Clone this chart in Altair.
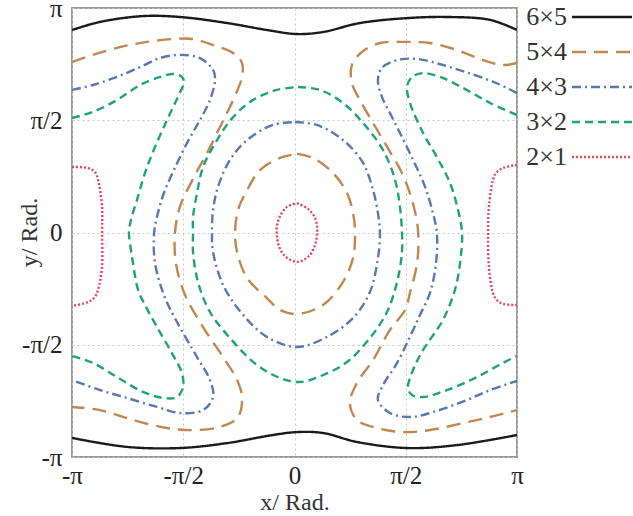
import altair as alt
import pandas as pd

# Series (legend order), colours and dash patterns
SERIES = ["6×5", "5×4", "4×3", "3×2", "2×1"]
COLORS = ["#1a1a1a", "#c0874f", "#5a78b0", "#1fa27a", "#e2475a"]
DASHES = [[1, 0], [14, 8], [9, 4, 2, 4], [8, 5], [2, 2]]

# Tick values (in units of pi) and their labels
TICKS = [-1, -0.5, 0, 0.5, 1]
TICK_LABELS = ["-π", "-π/2", "0", "π/2", "π"]

# Contour traces, (x, y) in units of pi
BLACK_TOP = [(-1.0, 0.902), (-0.874, 0.938), (-0.681, 0.964), (-0.515, 0.960), (-0.303, 0.933),
             (-0.124, 0.902), (0.011, 0.884), (0.128, 0.893), (0.294, 0.933), (0.506, 0.955),
             (0.685, 0.960), (0.879, 0.947), (1.0, 0.902)]
BLACK_BOT = [(-1.0, -0.915), (-0.753, -0.955), (-0.515, -0.960), (-0.303, -0.938), (-0.097, -0.902),
             (0.011, -0.889), (0.128, -0.893), (0.281, -0.933), (0.506, -0.960), (0.730, -0.947),
             (1.0, -0.902)]

BROWN_LEFT = [(-1.0, 0.759), (-0.906, 0.791), (-0.784, 0.826), (-0.663, 0.849), (-0.546, 0.862),
              (-0.456, 0.862), (-0.366, 0.835), (-0.276, 0.800), (-0.236, 0.755), (-0.236, 0.693),
              (-0.276, 0.590), (-0.335, 0.470), (-0.393, 0.354), (-0.447, 0.256), (-0.515, 0.114),
              (-0.537, -0.002), (-0.533, -0.136), (-0.492, -0.278), (-0.411, -0.421), (-0.321, -0.555),
              (-0.258, -0.657), (-0.236, -0.733), (-0.254, -0.822), (-0.335, -0.866), (-0.456, -0.880),
              (-0.573, -0.871), (-0.726, -0.835), (-0.874, -0.791), (-1.0, -0.777)]
BROWN_RIGHT = [(1.0, 0.755), (0.937, 0.746), (0.847, 0.768), (0.730, 0.813), (0.609, 0.844),
               (0.488, 0.849), (0.384, 0.844), (0.303, 0.804), (0.258, 0.746), (0.258, 0.666),
               (0.294, 0.590), (0.353, 0.488), (0.416, 0.381), (0.483, 0.265), (0.528, 0.145),
               (0.555, 0.011), (0.551, -0.136), (0.519, -0.269), (0.497, -0.345), (0.429, -0.434),
               (0.353, -0.568), (0.281, -0.670), (0.249, -0.760), (0.281, -0.835), (0.371, -0.871),
               (0.488, -0.889), (0.609, -0.880), (0.757, -0.849), (0.879, -0.822), (1.0, -0.791)]
BROWN_CENTER = [(0.011, 0.350), (0.083, 0.332), (0.173, 0.265), (0.236, 0.176), (0.263, 0.087),
                (0.272, -0.002), (0.263, -0.114), (0.218, -0.220), (0.128, -0.323), (0.011, -0.363),
                (-0.065, -0.345), (-0.124, -0.292), (-0.213, -0.203), (-0.258, -0.087), (-0.267, -0.002),
                (-0.254, 0.100), (-0.213, 0.189), (-0.155, 0.278), (-0.065, 0.332), (0.011, 0.350)]

BLUE_LEFT = [(-1.0, 0.635), (-0.906, 0.657), (-0.798, 0.693), (-0.694, 0.737), (-0.604, 0.777),
             (-0.515, 0.791), (-0.425, 0.777), (-0.366, 0.724), (-0.357, 0.679), (-0.380, 0.590),
             (-0.425, 0.501), (-0.483, 0.399), (-0.542, 0.278), (-0.587, 0.176), (-0.618, 0.069),
             (-0.631, -0.002), (-0.627, -0.136), (-0.587, -0.278), (-0.533, -0.390), (-0.438, -0.555),
             (-0.380, -0.657), (-0.366, -0.733), (-0.411, -0.791), (-0.515, -0.804), (-0.618, -0.777),
             (-0.753, -0.737), (-0.874, -0.702), (-1.0, -0.657)]
BLUE_RIGHT = [(1.0, 0.621), (0.906, 0.666), (0.784, 0.710), (0.667, 0.746), (0.551, 0.773),
              (0.461, 0.768), (0.393, 0.733), (0.375, 0.679), (0.393, 0.604), (0.429, 0.532),
              (0.474, 0.443), (0.533, 0.323), (0.587, 0.203), (0.622, 0.087), (0.640, -0.002),
              (0.636, -0.136), (0.609, -0.269), (0.564, -0.367), (0.533, -0.434), (0.461, -0.581),
              (0.393, -0.688), (0.375, -0.746), (0.429, -0.804), (0.519, -0.822), (0.622, -0.800),
              (0.775, -0.746), (0.879, -0.702), (1.0, -0.661)]
BLUE_CENTER = [(0.002, 0.492), (0.101, 0.479), (0.218, 0.412), (0.308, 0.310), (0.353, 0.189),
               (0.375, 0.087), (0.384, -0.002), (0.375, -0.114), (0.339, -0.265), (0.263, -0.381),
               (0.146, -0.465), (0.011, -0.510), (-0.124, -0.465), (-0.231, -0.367), (-0.321, -0.234),
               (-0.366, -0.087), (-0.371, -0.002), (-0.366, 0.100), (-0.344, 0.203), (-0.290, 0.323),
               (-0.213, 0.412), (-0.097, 0.479), (0.002, 0.492)]

GREEN_LEFT = [(-1.0, 0.510), (-0.906, 0.537), (-0.798, 0.590), (-0.694, 0.657), (-0.604, 0.693),
              (-0.546, 0.706), (-0.506, 0.693), (-0.497, 0.670), (-0.524, 0.604), (-0.573, 0.501),
              (-0.627, 0.381), (-0.672, 0.265), (-0.708, 0.145), (-0.735, 0.056), (-0.744, -0.002),
              (-0.735, -0.078), (-0.726, -0.136), (-0.703, -0.256), (-0.672, -0.323), (-0.618, -0.421),
              (-0.551, -0.537), (-0.506, -0.626), (-0.501, -0.688), (-0.528, -0.733), (-0.591, -0.737),
              (-0.681, -0.710), (-0.798, -0.644), (-0.906, -0.581), (-1.0, -0.550)]
GREEN_RIGHT = [(1.0, 0.523), (0.879, 0.577), (0.757, 0.644), (0.654, 0.693), (0.578, 0.710),
               (0.528, 0.693), (0.506, 0.648), (0.519, 0.577), (0.578, 0.443), (0.640, 0.336),
               (0.699, 0.220), (0.735, 0.100), (0.753, -0.002), (0.744, -0.136), (0.721, -0.256),
               (0.667, -0.390), (0.578, -0.523), (0.533, -0.612), (0.510, -0.693), (0.528, -0.724),
               (0.578, -0.733), (0.685, -0.702), (0.820, -0.644), (0.937, -0.581), (1.0, -0.550)]
GREEN_CENTER = [(0.016, 0.648), (0.115, 0.635), (0.218, 0.577), (0.308, 0.488), (0.398, 0.367),
                (0.452, 0.234), (0.474, 0.114), (0.483, -0.002), (0.483, -0.087), (0.461, -0.220),
                (0.416, -0.354), (0.339, -0.470), (0.236, -0.577), (0.128, -0.635), (0.025, -0.666),
                (-0.065, -0.648), (-0.169, -0.590), (-0.290, -0.470), (-0.380, -0.354), (-0.434, -0.220),
                (-0.456, -0.087), (-0.456, -0.002), (-0.456, 0.069), (-0.438, 0.176), (-0.411, 0.292),
                (-0.348, 0.412), (-0.276, 0.514), (-0.187, 0.590), (-0.079, 0.635), (0.016, 0.648)]

RED_LEFT = [(-1.0, 0.292), (-0.928, 0.287), (-0.897, 0.269), (-0.883, 0.234), (-0.865, 0.114),
            (-0.865, -0.002), (-0.865, -0.154), (-0.883, -0.256), (-0.897, -0.287), (-0.928, -0.310),
            (-1.0, -0.327)]
RED_RIGHT = [(1.0, 0.301), (0.937, 0.287), (0.906, 0.265), (0.892, 0.234), (0.874, 0.114),
             (0.870, -0.002), (0.874, -0.154), (0.892, -0.269), (0.910, -0.301), (0.937, -0.318),
             (1.0, -0.323)]
RED_CENTER = [(0.011, 0.131), (0.061, 0.105), (0.088, 0.073), (0.101, 0.033), (0.101, -0.011),
              (0.092, -0.056), (0.065, -0.105), (0.011, -0.131), (-0.043, -0.105), (-0.070, -0.060),
              (-0.079, -0.016), (-0.079, 0.029), (-0.065, 0.073), (-0.034, 0.114), (0.011, 0.131)]

PIECES = [
    ("6×5", "top", BLACK_TOP), ("6×5", "bot", BLACK_BOT),
    ("5×4", "left", BROWN_LEFT), ("5×4", "right", BROWN_RIGHT), ("5×4", "center", BROWN_CENTER),
    ("4×3", "left", BLUE_LEFT), ("4×3", "right", BLUE_RIGHT), ("4×3", "center", BLUE_CENTER),
    ("3×2", "left", GREEN_LEFT), ("3×2", "right", GREEN_RIGHT), ("3×2", "center", GREEN_CENTER),
    ("2×1", "left", RED_LEFT), ("2×1", "right", RED_RIGHT), ("2×1", "center", RED_CENTER),
]

rows = []
for series, name, pts in PIECES:
    for i, (x, y) in enumerate(pts):
        rows.append({"series": series, "label": series, "piece": series + "-" + name,
                     "i": i, "x": x, "y": y})
df = pd.DataFrame(rows)

label_expr = " : ".join(
    f"datum.value == {v} ? '{t}'" for v, t in zip(TICKS[:-1], TICK_LABELS[:-1])
) + f" : '{TICK_LABELS[-1]}'"

FONT = "Liberation Serif"

# Legend of line samples (no label text) ...
symbol_legend = alt.Legend(
    title=None, orient="none", legendX=498.5, legendY=-8,
    symbolType="stroke", symbolSize=3600, symbolStrokeWidth=2.4,
    clipHeight=34, rowPadding=1, padding=0,
    labelFontSize=10, labelExpr="''",
)
# ... and a legend of labels only, to the left of the samples
label_legend = alt.Legend(
    title=None, orient="none", legendX=469, legendY=-8,
    symbolType="circle", symbolSize=100, symbolOpacity=0, symbolStrokeWidth=0,
    clipHeight=34, rowPadding=1, padding=0,
    labelFont=FONT, labelFontSize=26, labelColor="#333333",
    labelAlign="right", labelBaseline="middle", labelOffset=0,
)

axis_common = dict(
    values=TICKS, labelExpr=label_expr, labelFont=FONT, labelFontSize=25,
    labelColor="#222222", titleFont=FONT, titleFontSize=24, titleColor="#333333",
    titleFontWeight="normal", domain=False, ticks=False, labelFlush=False,
    grid=True, gridDash=[2, 3], gridColor="#c8c8c8", gridWidth=1,
)

chart = alt.Chart(df).mark_line(interpolate="catmull-rom", strokeWidth=2.4, clip=True).encode(
    x=alt.X("x:Q", scale=alt.Scale(domain=[-1, 1], nice=False, zero=False),
            axis=alt.Axis(title="x/ Rad.", labelPadding=6, titleY=52,
                          titleBaseline="alphabetic", **axis_common)),
    y=alt.Y("y:Q", scale=alt.Scale(domain=[-1, 1], nice=False, zero=False),
            axis=alt.Axis(title="y/ Rad.", labelPadding=10, titleX=-43, titleY=224,
                          titleAlign="center", titleBaseline="middle", **axis_common)),
    color=alt.Color("series:N", scale=alt.Scale(domain=SERIES, range=COLORS), legend=symbol_legend),
    strokeDash=alt.StrokeDash("series:N", scale=alt.Scale(domain=SERIES, range=DASHES),
                              legend=symbol_legend),
    opacity=alt.Opacity("label:O", sort=SERIES, scale=alt.Scale(range=[1, 1, 1, 1, 1]),
                        legend=label_legend),
    detail="piece:N",
    order="i:Q",
).properties(
    width=445, height=449,
    autosize=alt.AutoSizeParams(type="none"),
    padding={"left": 72, "top": 8, "right": 116, "bottom": 59},
    background="white",
).configure_view(stroke="#9a9a9a", strokeWidth=2)

chart.save("out.html", embed_options={"renderer": "svg", "actions": False})
